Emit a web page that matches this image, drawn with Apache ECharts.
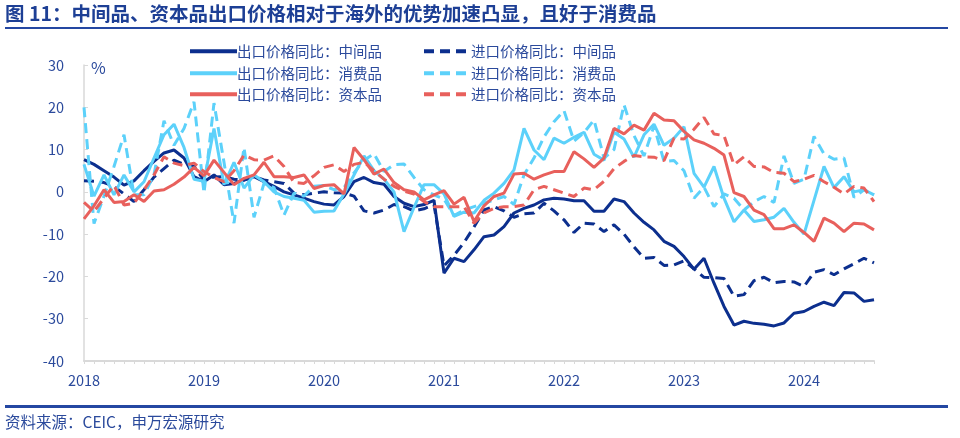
<!DOCTYPE html>
<html><head><meta charset="utf-8">
<script src="https://cdn.jsdelivr.net/npm/echarts@6/dist/echarts.min.js"></script>
<style>html,body{margin:0;padding:0;background:#fff}#c{width:960px;height:438px}</style>
</head><body><div id="c"></div>
<script>
// categories: monthly, 2018-01 .. 2024-08
const startYear = 2018;
const monthCount = 80;
const months = [];
for (let k = 0; k < monthCount; k++) {
  const y = startYear + Math.floor(k / 12), m = k % 12 + 1;
  months.push(y + '-' + (m < 10 ? '0' : '') + m);
}
const yMin = -40, yMax = 30, yStep = 10;

const seriesNames = ['出口价格同比：中间品','进口价格同比：中间品','出口价格同比：消费品','进口价格同比：消费品','出口价格同比：资本品','进口价格同比：资本品'];

const exportIntermediate = [7.6,6.5,5.0,3.5,1.6,2.6,5.0,7.2,9.2,9.9, 8.0,3.6,2.4,4.0,1.7,2.0,2.8,3.6,2.4,1.3,
  0.0,-0.7,-1.5,-2.3,-2.9,-3.1,-1.1,2.4,3.4,2.2, 1.8,-1.1,-2.7,-3.5,-3.0,-2.0,-19.2,-15.7,-16.5,-13.7,
  -10.6,-10.2,-8.2,-5.0,-3.9,-3.1,-1.9,-1.5,-1.7,-2.1, -2.1,-4.6,-4.6,-1.7,-2.3,-5.0,-7.2,-9.0,-11.7,-12.9,
  -15.3,-18.3,-15.7,-21.6,-27.1,-31.5,-30.6,-31.1,-31.3,-31.7, -31.0,-28.7,-28.3,-27.1,-26.1,-26.9,-23.8,-23.9,-25.9,-25.5];

const importIntermediate = [2.6,2.5,2.2,1.3,-0.5,-2.3,0.5,3.5,5.5,7.5, 6.5,6.0,2.8,3.5,3.6,3.0,2.8,3.6,2.8,2.4,
  2.0,-0.3,-0.7,-0.3,0.0,-0.2,-0.3,-1.0,-4.5,-5.0, -4.3,-3.0,-3.5,-4.5,-4.0,-3.0,-17.5,-15.0,-12.0,-8.3,
  -4.3,-3.5,-4.5,-6.0,-5.2,-5.0,-2.7,-4.5,-6.6,-9.6, -7.4,-7.6,-9.4,-7.8,-10.0,-13.0,-15.7,-15.5,-17.4,-17.3,
  -16.3,-18.2,-20.2,-20.3,-20.5,-24.7,-24.3,-21.0,-20.2,-21.5, -21.2,-21.3,-22.4,-19.0,-18.4,-19.6,-18.2,-17.0,-15.7,-16.8];

const exportConsumer = [6.5,-1.0,4.0,-0.7,4.0,0.0,2.4,8.0,13.5,16.0, 10.5,3.0,2.5,15.0,1.7,7.0,0.9,4.0,2.4,0.0,
  -1.1,-1.5,-2.0,-4.8,-4.6,-4.5,-0.5,4.0,8.5,5.0, 3.0,0.0,-9.4,-3.7,1.7,1.7,-0.5,-5.8,-4.8,-5.0,
  -2.0,-0.3,2.0,5.2,15.0,9.9,7.6,12.7,11.5,12.9, 14.1,8.9,7.5,14.1,12.5,8.2,13.5,16.0,11.0,12.7,
  15.4,4.4,1.1,6.0,-1.5,-7.1,-4.3,-7.0,-6.6,-6.0, -3.9,-7.2,-10.0,-2.0,6.0,1.0,3.6,0.0,0.5,-0.7];

const importConsumer = [20.0,-7.5,-1.0,6.0,13.5,-0.7,-0.7,4.0,16.8,11.0, 15.0,21.3,-0.3,21.0,7.0,-7.4,10.5,-6.0,2.0,1.0,
  -5.5,-0.3,-1.0,1.3,1.5,0.5,1.0,4.5,7.5,9.0, 4.8,6.4,6.6,3.4,0.5,-0.7,-1.7,-5.6,-4.3,-3.5,
  -2.7,-1.9,-1.1,-3.0,4.0,8.0,13.0,16.6,19.2,12.0, 14.0,17.0,8.0,10.0,20.6,13.3,8.5,15.6,7.2,7.4,
  5.0,-1.5,1.1,-3.5,-0.5,-1.5,-4.3,-2.3,-1.1,-2.5, 8.5,2.0,3.0,13.1,9.0,7.7,8.0,-1.3,0.5,-0.7];

const exportCapital = [-6.4,-3.3,0.5,-2.5,-2.3,-0.7,-2.3,0.2,0.5,1.8, 3.5,5.8,3.8,7.5,4.6,1.7,3.2,4.0,7.0,3.6,
  3.6,3.4,4.0,0.8,1.5,1.7,-0.5,10.5,7.6,4.2, 5.4,2.2,0.5,0.0,-1.9,-0.7,0.3,-2.9,-1.3,-7.0,
  -3.3,-1.1,-0.3,4.2,4.4,3.0,4.0,4.8,4.8,9.5, 7.8,5.8,8.0,15.0,13.7,15.8,14.6,18.6,17.0,16.8,
  14.3,12.3,11.5,10.3,8.7,-0.2,-1.1,-4.3,-5.4,-8.7, -8.7,-7.8,-9.6,-11.7,-6.2,-7.4,-9.4,-7.4,-7.6,-9.0];

const importCapital = [-2.5,-4.6,-1.5,1.5,-3.1,-2.7,0.5,4.0,8.3,6.8, 6.2,6.8,4.8,3.4,2.4,5.0,8.7,7.6,7.5,8.5,
  6.0,2.2,2.0,3.8,5.8,6.4,4.8,6.5,7.0,5.0, 3.0,1.3,0.2,-0.5,-2.3,-3.5,-3.5,-3.5,-3.5,-7.4,
  -5.0,-3.9,-3.5,-3.5,-3.1,0.5,1.3,0.5,-0.3,-1.1, 0.9,0.5,2.5,5.5,7.2,8.6,8.3,8.2,7.4,12.7,
  12.5,14.8,17.6,13.7,13.3,6.4,8.3,6.0,5.9,4.6, 4.4,2.4,3.0,3.9,2.4,1.1,-0.5,1.3,0.9,-2.3];

const seriesData = [exportIntermediate, importIntermediate, exportConsumer, importConsumer, exportCapital, importCapital];
const seriesColors = ['#0c2f8e','#0c2f8e','#5cd1fa','#5cd1fa','#e8605c','#e8605c'];
const dashed = [false, true, false, true, false, true];

const textColor = '#2b4a9c';
const fontFam = '"Noto Sans CJK SC", "Noto Sans", sans-serif';

const chart = echarts.init(document.getElementById('c'), null, {renderer: 'canvas'});

const legendRow = (top, names) => ({
  left: 183, top: top, orient: 'horizontal', data: names,
  itemWidth: 47, itemHeight: 14, itemGap: 40, selectedMode: false,
  itemStyle: {opacity: 0},
  lineStyle: {width: 4},
  textStyle: {color: textColor, fontSize: 14.5, fontFamily: fontFam, padding: [0,0,0,-5]}
});

chart.setOption({
  animation: false,
  textStyle: {fontFamily: fontFam},
  grid: {left: 84, right: 86, top: 65, bottom: 77},
  legend: [
    legendRow(39, [seriesNames[0], seriesNames[1]]),
    legendRow(61, [seriesNames[2], seriesNames[3]]),
    legendRow(82, [seriesNames[4], seriesNames[5]])
  ],
  xAxis: [
    {type: 'category', data: months, boundaryGap: false,
     axisLine: {show: false}, axisTick: {show: false}, splitLine: {show: false},
     axisLabel: {interval: (i) => i % 12 === 0, formatter: (v) => v.slice(0, 4),
       color: textColor, fontSize: 14.5, margin: 12, fontFamily: fontFam}},
    {type: 'category', data: months, boundaryGap: false, position: 'bottom',
     axisLine: {show: true, onZero: true, lineStyle: {color: '#d9d9d9', width: 2}},
     axisTick: {show: true, interval: 0, length: 3, lineStyle: {color: '#d9d9d9', width: 1}},
     axisLabel: {show: false}, splitLine: {show: false}}
  ],
  yAxis: {type: 'value', min: yMin, max: yMax, interval: yStep,
    axisLine: {show: true, lineStyle: {color: '#d9d9d9', width: 1.5}},
    axisTick: {show: true, inside: true, length: 4, lineStyle: {color: '#d9d9d9'}},
    splitLine: {show: false},
    axisLabel: {color: textColor, fontSize: 14.5, margin: 20, fontFamily: fontFam}},
  series: seriesNames.map((n, k) => ({
    name: n, type: 'line', data: seriesData[k], xAxisIndex: 0,
    symbol: 'none', smooth: false,
    itemStyle: {color: seriesColors[k]},
    lineStyle: {color: seriesColors[k], width: 3, type: dashed[k] ? [10, 6] : 'solid'}
  })),
  graphic: [
    {type: 'text', left: 5, top: 4, style: {text: '图 11：中间品、资本品出口价格相对于海外的优势加速凸显，且好于消费品',
      fill: '#1d3f95', font: 'bold 19.5px ' + fontFam}},
    {type: 'rect', left: 5, top: 27, shape: {width: 943, height: 2}, style: {fill: '#2447a2'}},
    {type: 'text', left: 91, top: 60, style: {text: '%', fill: textColor, font: '16px ' + fontFam}},
    {type: 'rect', left: 5, top: 405, shape: {width: 943, height: 3}, style: {fill: '#2447a2'}},
    {type: 'text', left: 5, top: 414, style: {text: '资料来源：CEIC，申万宏源研究', fill: textColor, font: '15.5px ' + fontFam}}
  ]
});
</script></body></html>
